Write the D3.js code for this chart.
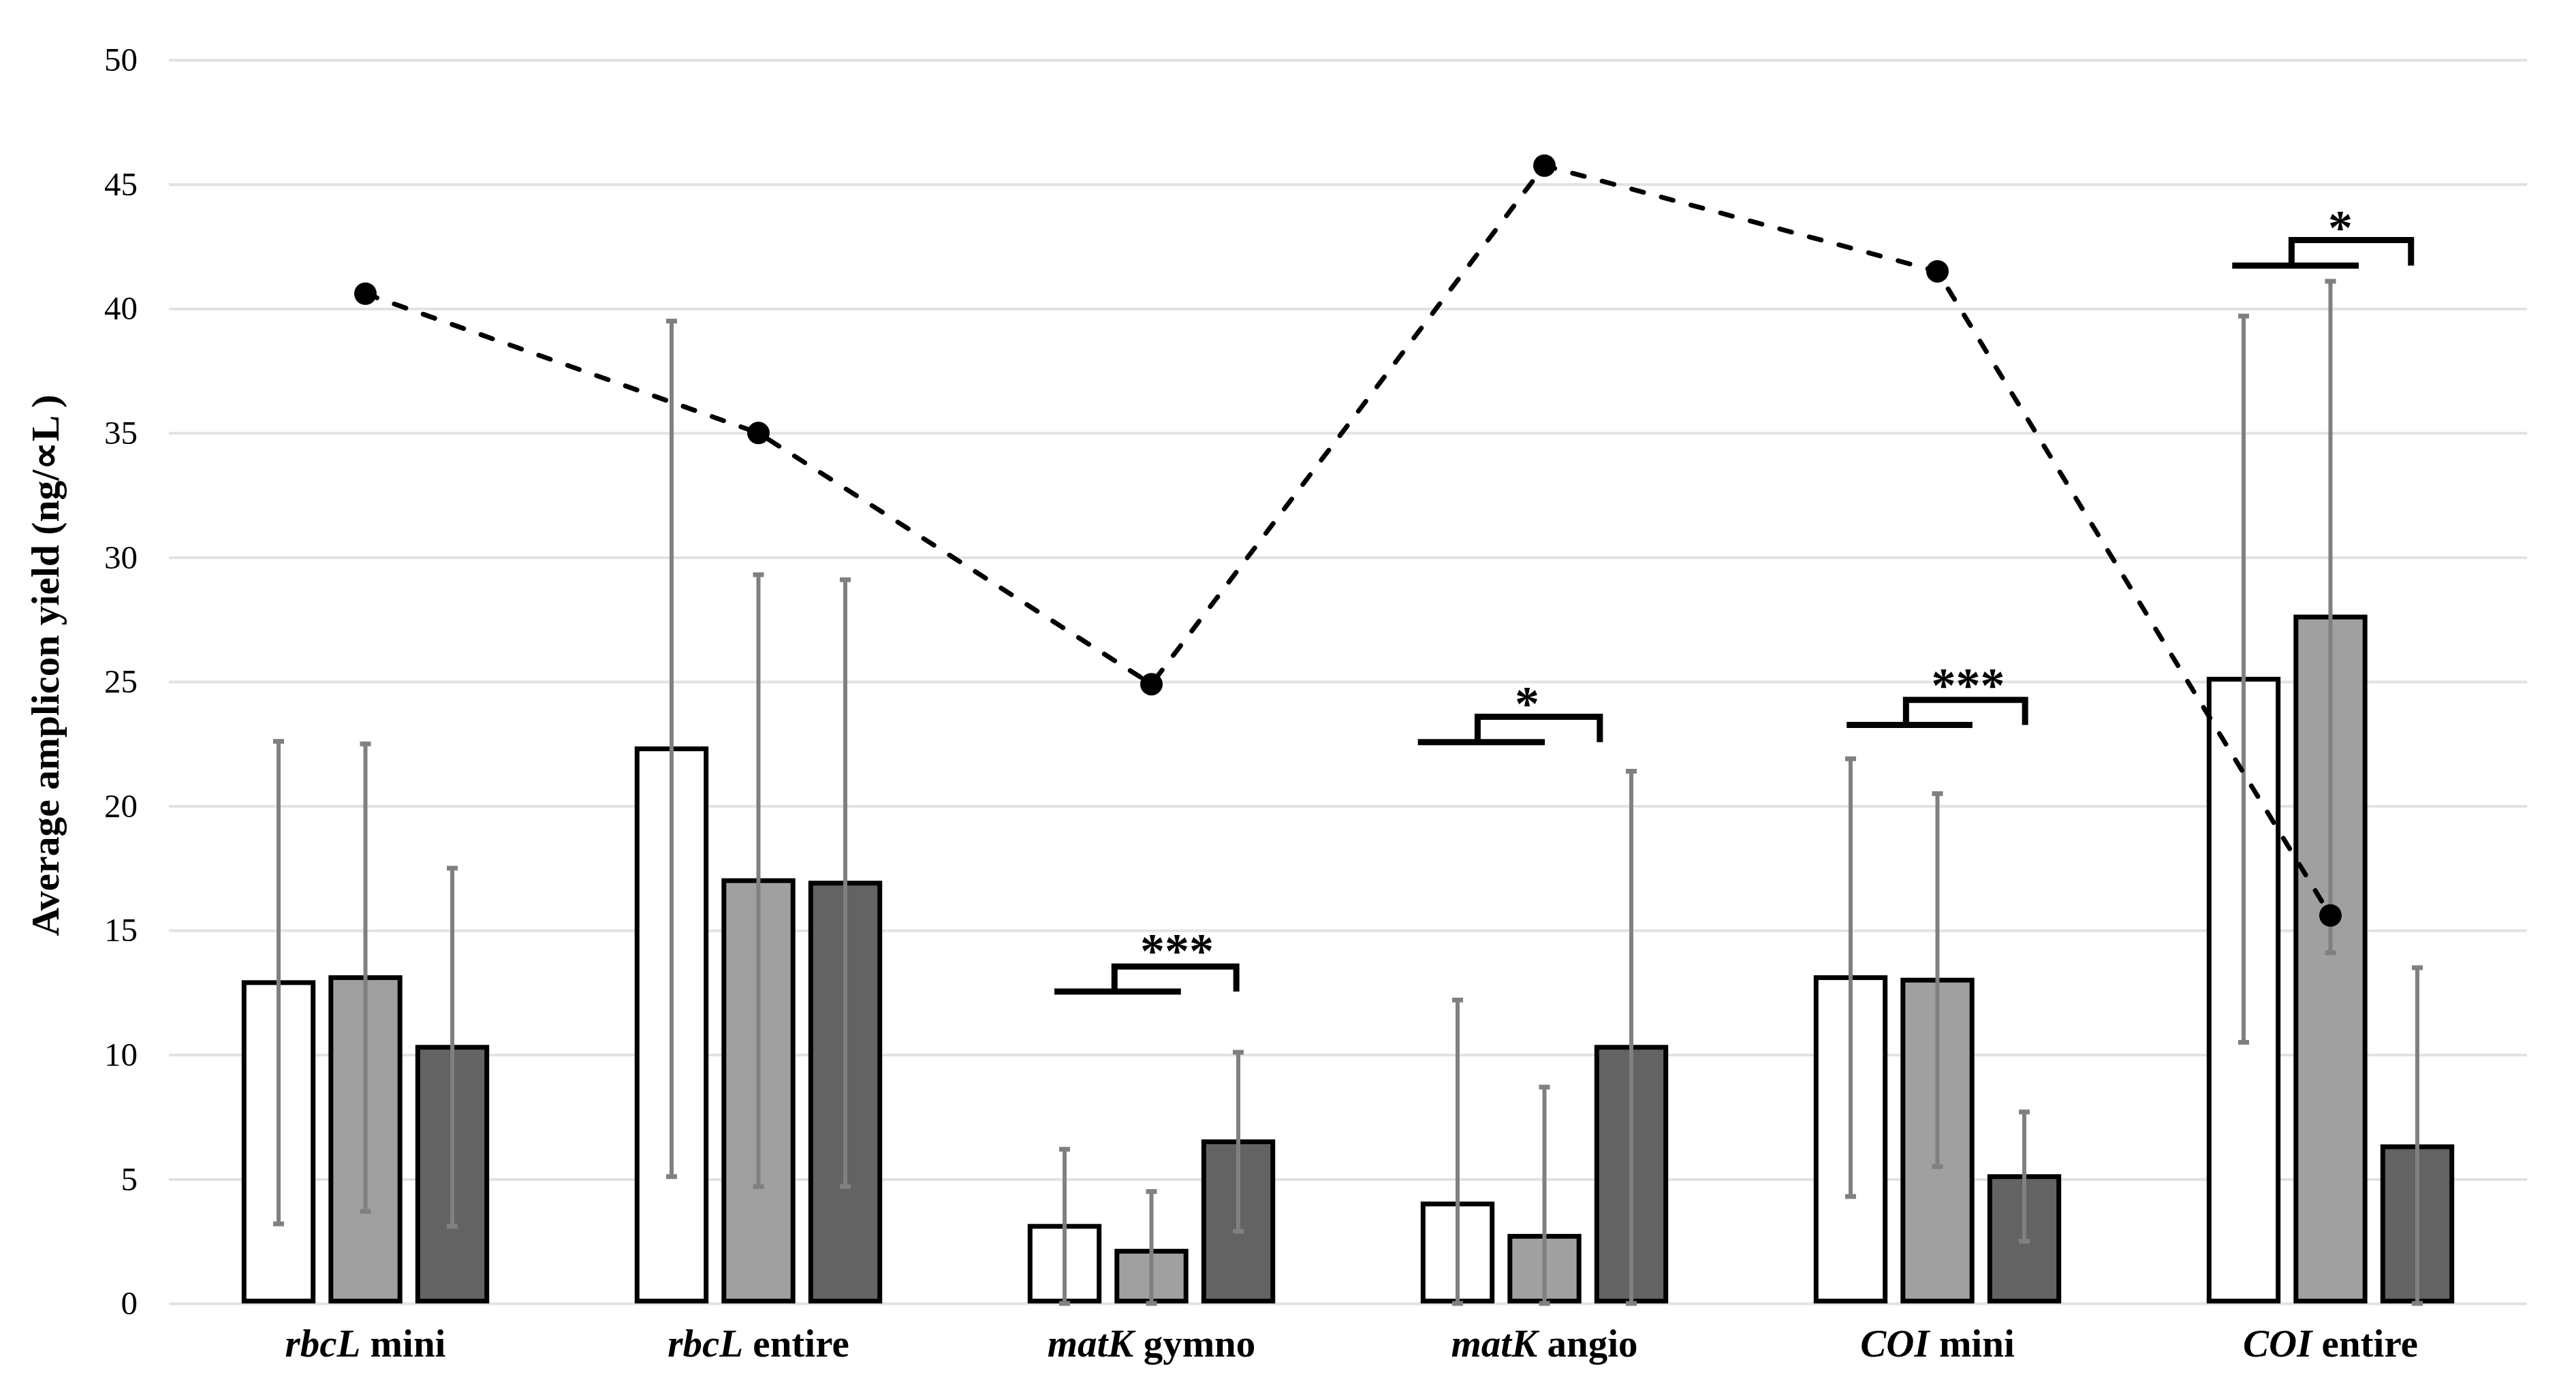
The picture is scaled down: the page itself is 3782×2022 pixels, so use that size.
<!DOCTYPE html>
<html>
<head>
<meta charset="utf-8">
<script src="https://cdn.jsdelivr.net/npm/d3@7"></script>
<style>
  html, body { margin: 0; padding: 0; background: #ffffff; }
  svg { display: block; }
  text { font-family: "Liberation Serif", "Times New Roman", Times, serif; }
</style>
</head>
<body>
<svg id="chart" width="3782" height="2022"></svg>
<script>
// ---------------- data ----------------
const categories = ["rbcL mini", "rbcL entire", "matK gymno", "matK angio", "COI mini", "COI entire"];
const geneNames  = ["rbcL", "rbcL", "matK", "matK", "COI", "COI"];
const geneParts  = ["mini", "entire", "gymno", "angio", "mini", "entire"];

const seriesNames = ["Series 1", "Series 2", "Series 3"];
const series1Mean = [12.9, 22.3, 3.1, 4.0, 13.1, 25.1];
const series2Mean = [13.1, 17.0, 2.1, 2.7, 13.0, 27.6];
const series3Mean = [10.3, 16.9, 6.5, 10.3, 5.1, 6.3];
const series1Err  = [9.7, 17.2, 3.1, 8.2, 8.8, 14.6];
const series2Err  = [9.4, 12.3, 2.4, 6.0, 7.5, 13.5];
const series3Err  = [7.2, 12.2, 3.6, 11.1, 2.6, 7.2];

const lineValues = [40.6, 35.0, 24.9, 45.75, 41.5, 15.6];

const yTickValues = [0, 5, 10, 15, 20, 25, 30, 35, 40, 45, 50];
const yAxisTitle = "Average amplicon yield (ng/\u221DL )";

// significance annotations (x in category-index units, y in data units)
const sigCategory  = ["matK gymno", "matK angio", "COI mini", "COI entire"];
const sigLabel     = ["***", "*", "***", "*"];
const sigLowFrom   = [-0.247, -0.322, -0.231, -0.250];
const sigLowTo     = [0.075, 0.001, 0.089, 0.072];
const sigHighFrom  = [-0.094, -0.170, -0.080, -0.099];
const sigHighTo    = [0.216, 0.141, 0.223, 0.205];
const sigLowY      = [12.54, 22.57, 23.26, 41.73];
const sigHighY     = [13.55, 23.59, 24.27, 42.76];
const sigLabelX    = [0.065, -0.044, 0.078, 0.025];
const sigLabelY    = [14.51, 24.45, 25.18, 43.6];

// ---------------- build ----------------
const means = [series1Mean, series2Mean, series3Mean];
const errs  = [series1Err, series2Err, series3Err];
const fills = ["#ffffff", "#a0a0a0", "#636363"];

const svg = d3.select("#chart");
const plotLeft = 248, plotRight = 3710, plotTop = 88, plotBottom = 1914;

const y  = d3.scaleLinear().domain([0, 50]).range([plotBottom, plotTop]);
const x0 = d3.scaleBand().domain(categories).range([plotLeft, plotRight]).padding(0);
const x1 = d3.scaleBand().domain(seriesNames).range([0, x0.bandwidth()])
             .paddingInner(0.15).paddingOuter(0.8376);
const xc = d3.scaleLinear().domain([-0.5, categories.length - 0.5]).range([plotLeft, plotRight]);

// gridlines + tick labels
const yAxis = d3.axisLeft(y).tickValues(yTickValues)
  .tickSize(-(plotRight - plotLeft)).tickPadding(46).tickFormat(d3.format("d"));
const gy = svg.append("g").attr("transform", `translate(${plotLeft},0)`).call(yAxis);
gy.select(".domain").remove();
gy.selectAll(".tick line").attr("stroke", "#e2e2e2").attr("stroke-width", 4);
gy.selectAll(".tick text").attr("font-size", 49).attr("fill", "#000")
  .attr("font-family", "'Liberation Serif', 'Times New Roman', serif");

// y-axis title
svg.append("text")
  .attr("transform", `translate(86,977) rotate(-90)`)
  .attr("text-anchor", "middle")
  .attr("font-size", 57).attr("font-weight", "bold")
  .attr("textLength", 795).attr("lengthAdjust", "spacingAndGlyphs")
  .text(yAxisTitle);

// bars
const sw = 7;
const barData = [];
categories.forEach((c, ci) => {
  seriesNames.forEach((s, si) => {
    barData.push({cat: c, ser: s, si, v: means[si][ci], e: errs[si][ci]});
  });
});

svg.append("g").selectAll("rect").data(barData).join("rect")
  .attr("x", d => x0(d.cat) + x1(d.ser) + sw / 2)
  .attr("width", x1.bandwidth() - sw)
  .attr("y", d => y(d.v))
  .attr("height", d => y(0) - y(d.v) - sw / 2)
  .attr("fill", d => fills[d.si])
  .attr("stroke", "#000").attr("stroke-width", sw);

// error bars
const eg = svg.append("g").attr("stroke", "#808080");
barData.forEach(d => {
  const cx = x0(d.cat) + x1(d.ser) + x1.bandwidth() / 2;
  const lo = Math.max(0, d.v - d.e), hi = d.v + d.e;
  eg.append("line").attr("x1", cx).attr("x2", cx).attr("y1", y(lo)).attr("y2", y(hi))
    .attr("stroke-width", 6);
  [lo, hi].forEach(val => {
    eg.append("line").attr("x1", cx - 8).attr("x2", cx + 8)
      .attr("y1", y(val)).attr("y2", y(val)).attr("stroke-width", 7);
  });
});

// dashed line + markers
const line = d3.line()
  .x((d, i) => x0(categories[i]) + x0.bandwidth() / 2)
  .y(d => y(d));
svg.append("path").datum(lineValues)
  .attr("d", line).attr("fill", "none")
  .attr("stroke", "#000").attr("stroke-width", 7)
  .attr("stroke-dasharray", "18,27").attr("stroke-linecap", "round");
svg.append("g").selectAll("circle").data(lineValues).join("circle")
  .attr("cx", (d, i) => x0(categories[i]) + x0.bandwidth() / 2)
  .attr("cy", d => y(d)).attr("r", 16.5).attr("fill", "#000");

// significance brackets
const sg = svg.append("g");
sigCategory.forEach((c, i) => {
  const k = categories.indexOf(c);
  sg.append("line")
    .attr("x1", xc(k + sigLowFrom[i])).attr("x2", xc(k + sigLowTo[i]))
    .attr("y1", y(sigLowY[i])).attr("y2", y(sigLowY[i]))
    .attr("stroke", "#000").attr("stroke-width", 9);
  const xl = xc(k + sigHighFrom[i]), xr = xc(k + sigHighTo[i]);
  sg.append("path")
    .attr("d", `M${xl},${y(sigLowY[i]) - 4}V${y(sigHighY[i])}H${xr}V${y(sigLowY[i])}`)
    .attr("fill", "none").attr("stroke", "#000").attr("stroke-width", 9)
    .attr("stroke-linecap", "butt").attr("stroke-linejoin", "miter");
  sg.append("text")
    .attr("x", xc(k + sigLabelX[i])).attr("y", y(sigLabelY[i]))
    .attr("dy", "0.5em")
    .attr("text-anchor", "middle")
    .attr("font-size", 72).attr("font-weight", "bold").attr("letter-spacing", "0px")
    .text(sigLabel[i]);
});

// category labels
const lab = svg.append("g").selectAll("text").data(categories).join("text")
  .attr("x", d => x0(d) + x0.bandwidth() / 2)
  .attr("y", 1992)
  .attr("text-anchor", "middle")
  .attr("font-size", 57).attr("font-weight", "bold");
lab.append("tspan").attr("font-style", "italic").text((d, i) => geneNames[i]);
lab.append("tspan").text((d, i) => " " + geneParts[i]);
</script>
</body>
</html>
